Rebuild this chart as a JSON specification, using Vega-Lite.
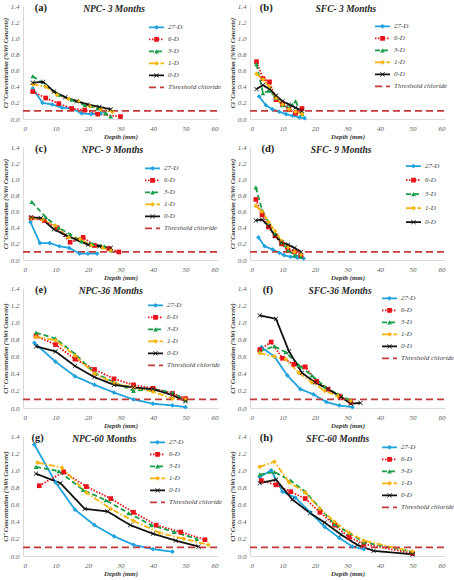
{
  "$schema": "https://vega.github.io/schema/vega-lite/v6.json",
  "background": "white",
  "padding": {"left": 2, "top": 2, "right": 2, "bottom": 2},
  "config": {
    "view": {"stroke": null},
    "font": "Liberation Serif",
    "axis": {"grid": false, "ticks": false, "domainColor": "#d9d9d9", "labelFont": "Liberation Serif", "labelFontStyle": "italic", "labelFontSize": 7, "labelColor": "#595959", "titleFont": "Liberation Serif", "titleFontStyle": "italic", "titleFontWeight": "bold", "titleFontSize": 6.3, "titleColor": "#333333", "labelOverlap": false},
    "axisX": {"labelPadding": 5, "titlePadding": 2, "titleFontSize": 6.8},
    "axisY": {"labelPadding": 4, "titlePadding": 2},
    "legend": {"labelFont": "Liberation Serif", "labelFontStyle": "italic", "labelFontSize": 7, "labelColor": "#404040", "padding": 0, "rowPadding": 0, "clipHeight": 11.7}
  },
  "data": {"values": [
    {"p":"a","s":"27-D","d":3,"c":0.38},{"p":"a","s":"27-D","d":6,"c":0.2},{"p":"a","s":"27-D","d":9,"c":0.18},{"p":"a","s":"27-D","d":12,"c":0.14},{"p":"a","s":"27-D","d":15,"c":0.13},{"p":"a","s":"27-D","d":18,"c":0.07},{"p":"a","s":"27-D","d":21,"c":0.06},{"p":"a","s":"27-D","d":24,"c":0.07},
    {"p":"a","s":"6-D","d":3,"c":0.34},{"p":"a","s":"6-D","d":7,"c":0.26},{"p":"a","s":"6-D","d":11,"c":0.19},{"p":"a","s":"6-D","d":15,"c":0.13},{"p":"a","s":"6-D","d":19,"c":0.11},{"p":"a","s":"6-D","d":23,"c":0.06},{"p":"a","s":"6-D","d":30,"c":0.03},
    {"p":"a","s":"3-D","d":3,"c":0.53},{"p":"a","s":"3-D","d":7,"c":0.42},{"p":"a","s":"3-D","d":11,"c":0.3},{"p":"a","s":"3-D","d":15,"c":0.24},{"p":"a","s":"3-D","d":19,"c":0.17},{"p":"a","s":"3-D","d":23,"c":0.13},{"p":"a","s":"3-D","d":25.5,"c":0.07},{"p":"a","s":"3-D","d":27,"c":0.03},
    {"p":"a","s":"1-D","d":3,"c":0.43},{"p":"a","s":"1-D","d":7,"c":0.4},{"p":"a","s":"1-D","d":10.5,"c":0.3},{"p":"a","s":"1-D","d":14,"c":0.25},{"p":"a","s":"1-D","d":17,"c":0.22},{"p":"a","s":"1-D","d":20.5,"c":0.16},{"p":"a","s":"1-D","d":24,"c":0.12},{"p":"a","s":"1-D","d":27.5,"c":0.09},
    {"p":"a","s":"0-D","d":3,"c":0.45},{"p":"a","s":"0-D","d":6.2,"c":0.46},{"p":"a","s":"0-D","d":9.5,"c":0.34},{"p":"a","s":"0-D","d":13,"c":0.27},{"p":"a","s":"0-D","d":16.5,"c":0.22},{"p":"a","s":"0-D","d":20,"c":0.18},{"p":"a","s":"0-D","d":23.5,"c":0.15},{"p":"a","s":"0-D","d":27,"c":0.12},
    {"p":"a","s":"Threshold chloride","d":0,"c":0.1},{"p":"a","s":"Threshold chloride","d":60,"c":0.1},

    {"p":"b","s":"27-D","d":2.8,"c":0.28},{"p":"b","s":"27-D","d":4.9,"c":0.17},{"p":"b","s":"27-D","d":6.9,"c":0.12},{"p":"b","s":"27-D","d":9,"c":0.09},{"p":"b","s":"27-D","d":11.1,"c":0.06},{"p":"b","s":"27-D","d":13.1,"c":0.04},{"p":"b","s":"27-D","d":15.2,"c":0.02},{"p":"b","s":"27-D","d":16.8,"c":0.01},
    {"p":"b","s":"6-D","d":2,"c":0.71},{"p":"b","s":"6-D","d":4,"c":0.5},{"p":"b","s":"6-D","d":6,"c":0.46},{"p":"b","s":"6-D","d":8,"c":0.24},{"p":"b","s":"6-D","d":10,"c":0.18},{"p":"b","s":"6-D","d":12,"c":0.12},{"p":"b","s":"6-D","d":14,"c":0.07},{"p":"b","s":"6-D","d":16,"c":0.13},
    {"p":"b","s":"3-D","d":2,"c":0.68},{"p":"b","s":"3-D","d":4,"c":0.32},{"p":"b","s":"3-D","d":6,"c":0.35},{"p":"b","s":"3-D","d":8,"c":0.26},{"p":"b","s":"3-D","d":10,"c":0.17},{"p":"b","s":"3-D","d":12,"c":0.14},{"p":"b","s":"3-D","d":14,"c":0.22},{"p":"b","s":"3-D","d":16,"c":0.06},
    {"p":"b","s":"1-D","d":2,"c":0.56},{"p":"b","s":"1-D","d":4,"c":0.49},{"p":"b","s":"1-D","d":6,"c":0.4},{"p":"b","s":"1-D","d":8,"c":0.26},{"p":"b","s":"1-D","d":10,"c":0.18},{"p":"b","s":"1-D","d":12,"c":0.12},{"p":"b","s":"1-D","d":14,"c":0.09},{"p":"b","s":"1-D","d":16,"c":0.06},
    {"p":"b","s":"0-D","d":2,"c":0.37},{"p":"b","s":"0-D","d":4,"c":0.42},{"p":"b","s":"0-D","d":6,"c":0.37},{"p":"b","s":"0-D","d":8,"c":0.29},{"p":"b","s":"0-D","d":10,"c":0.22},{"p":"b","s":"0-D","d":12,"c":0.18},{"p":"b","s":"0-D","d":14,"c":0.14},{"p":"b","s":"0-D","d":16,"c":0.1},
    {"p":"b","s":"Threshold chloride","d":0,"c":0.1},{"p":"b","s":"Threshold chloride","d":60,"c":0.1},

    {"p":"c","s":"27-D","d":2.3,"c":0.47},{"p":"c","s":"27-D","d":5.2,"c":0.21},{"p":"c","s":"27-D","d":8.2,"c":0.21},{"p":"c","s":"27-D","d":11.2,"c":0.17},{"p":"c","s":"27-D","d":14.2,"c":0.15},{"p":"c","s":"27-D","d":17.4,"c":0.08},{"p":"c","s":"27-D","d":20,"c":0.08},{"p":"c","s":"27-D","d":22.8,"c":0.08},
    {"p":"c","s":"6-D","d":2.5,"c":0.52},{"p":"c","s":"6-D","d":6.5,"c":0.49},{"p":"c","s":"6-D","d":10.5,"c":0.4},{"p":"c","s":"6-D","d":14.5,"c":0.22},{"p":"c","s":"6-D","d":18.5,"c":0.28},{"p":"c","s":"6-D","d":22,"c":0.18},{"p":"c","s":"6-D","d":26.5,"c":0.14},{"p":"c","s":"6-D","d":29.5,"c":0.1},
    {"p":"c","s":"3-D","d":2.7,"c":0.72},{"p":"c","s":"3-D","d":7,"c":0.53},{"p":"c","s":"3-D","d":11,"c":0.4},{"p":"c","s":"3-D","d":14.5,"c":0.32},{"p":"c","s":"3-D","d":18,"c":0.23},{"p":"c","s":"3-D","d":21.5,"c":0.2},{"p":"c","s":"3-D","d":25,"c":0.17},{"p":"c","s":"3-D","d":27,"c":0.12},
    {"p":"c","s":"1-D","d":2.5,"c":0.52},{"p":"c","s":"1-D","d":6,"c":0.5},{"p":"c","s":"1-D","d":10,"c":0.42},{"p":"c","s":"1-D","d":14,"c":0.28},{"p":"c","s":"1-D","d":17.5,"c":0.26},{"p":"c","s":"1-D","d":21,"c":0.18},{"p":"c","s":"1-D","d":24.5,"c":0.15},{"p":"c","s":"1-D","d":27,"c":0.12},
    {"p":"c","s":"0-D","d":2.5,"c":0.53},{"p":"c","s":"0-D","d":5.5,"c":0.52},{"p":"c","s":"0-D","d":9.5,"c":0.38},{"p":"c","s":"0-D","d":13,"c":0.31},{"p":"c","s":"0-D","d":16.5,"c":0.25},{"p":"c","s":"0-D","d":20,"c":0.19},{"p":"c","s":"0-D","d":23.5,"c":0.17},{"p":"c","s":"0-D","d":27,"c":0.15},
    {"p":"c","s":"Threshold chloride","d":0,"c":0.1},{"p":"c","s":"Threshold chloride","d":60,"c":0.1},

    {"p":"d","s":"27-D","d":2.6,"c":0.28},{"p":"d","s":"27-D","d":4.5,"c":0.17},{"p":"d","s":"27-D","d":7,"c":0.13},{"p":"d","s":"27-D","d":9,"c":0.09},{"p":"d","s":"27-D","d":10.5,"c":0.06},{"p":"d","s":"27-D","d":12.5,"c":0.04},{"p":"d","s":"27-D","d":14.5,"c":0.03},{"p":"d","s":"27-D","d":16.5,"c":0.02},
    {"p":"d","s":"6-D","d":1.8,"c":0.75},{"p":"d","s":"6-D","d":3.7,"c":0.56},{"p":"d","s":"6-D","d":5.7,"c":0.41},{"p":"d","s":"6-D","d":7.7,"c":0.3},{"p":"d","s":"6-D","d":9.7,"c":0.2},{"p":"d","s":"6-D","d":11.7,"c":0.12},{"p":"d","s":"6-D","d":13.7,"c":0.1},{"p":"d","s":"6-D","d":15.7,"c":0.05},
    {"p":"d","s":"3-D","d":1.8,"c":0.9},{"p":"d","s":"3-D","d":3.7,"c":0.62},{"p":"d","s":"3-D","d":5.7,"c":0.46},{"p":"d","s":"3-D","d":7.7,"c":0.33},{"p":"d","s":"3-D","d":9.7,"c":0.22},{"p":"d","s":"3-D","d":11.7,"c":0.12},{"p":"d","s":"3-D","d":13.7,"c":0.06},{"p":"d","s":"3-D","d":15.7,"c":0.04},
    {"p":"d","s":"1-D","d":1.8,"c":0.67},{"p":"d","s":"1-D","d":3.7,"c":0.6},{"p":"d","s":"1-D","d":5.7,"c":0.47},{"p":"d","s":"1-D","d":7.7,"c":0.36},{"p":"d","s":"1-D","d":9.7,"c":0.24},{"p":"d","s":"1-D","d":11.7,"c":0.16},{"p":"d","s":"1-D","d":13.7,"c":0.1},{"p":"d","s":"1-D","d":15.7,"c":0.07},
    {"p":"d","s":"0-D","d":1.8,"c":0.49},{"p":"d","s":"0-D","d":3.7,"c":0.5},{"p":"d","s":"0-D","d":5.7,"c":0.42},{"p":"d","s":"0-D","d":7.7,"c":0.3},{"p":"d","s":"0-D","d":9.7,"c":0.22},{"p":"d","s":"0-D","d":11.7,"c":0.19},{"p":"d","s":"0-D","d":13.7,"c":0.15},{"p":"d","s":"0-D","d":15.7,"c":0.1},
    {"p":"d","s":"Threshold chloride","d":0,"c":0.1},{"p":"d","s":"Threshold chloride","d":60,"c":0.1},

    {"p":"e","s":"27-D","d":3.5,"c":0.76},{"p":"e","s":"27-D","d":10,"c":0.54},{"p":"e","s":"27-D","d":16,"c":0.37},{"p":"e","s":"27-D","d":22,"c":0.27},{"p":"e","s":"27-D","d":28,"c":0.18},{"p":"e","s":"27-D","d":34,"c":0.1},{"p":"e","s":"27-D","d":40,"c":0.05},{"p":"e","s":"27-D","d":46,"c":0.03},{"p":"e","s":"27-D","d":50,"c":0.01},
    {"p":"e","s":"6-D","d":4,"c":0.84},{"p":"e","s":"6-D","d":10,"c":0.74},{"p":"e","s":"6-D","d":16,"c":0.57},{"p":"e","s":"6-D","d":22,"c":0.45},{"p":"e","s":"6-D","d":28,"c":0.34},{"p":"e","s":"6-D","d":34,"c":0.27},{"p":"e","s":"6-D","d":40,"c":0.23},{"p":"e","s":"6-D","d":46,"c":0.17},{"p":"e","s":"6-D","d":50,"c":0.11},
    {"p":"e","s":"3-D","d":4,"c":0.88},{"p":"e","s":"3-D","d":10,"c":0.81},{"p":"e","s":"3-D","d":16,"c":0.63},{"p":"e","s":"3-D","d":22,"c":0.41},{"p":"e","s":"3-D","d":28,"c":0.3},{"p":"e","s":"3-D","d":34,"c":0.2},{"p":"e","s":"3-D","d":40,"c":0.22},{"p":"e","s":"3-D","d":46,"c":0.18},{"p":"e","s":"3-D","d":50,"c":0.09},
    {"p":"e","s":"1-D","d":4,"c":0.83},{"p":"e","s":"1-D","d":10,"c":0.79},{"p":"e","s":"1-D","d":16,"c":0.61},{"p":"e","s":"1-D","d":22,"c":0.4},{"p":"e","s":"1-D","d":28,"c":0.29},{"p":"e","s":"1-D","d":34,"c":0.24},{"p":"e","s":"1-D","d":40,"c":0.19},{"p":"e","s":"1-D","d":46,"c":0.11},{"p":"e","s":"1-D","d":50,"c":0.1},
    {"p":"e","s":"0-D","d":4,"c":0.72},{"p":"e","s":"0-D","d":10,"c":0.66},{"p":"e","s":"0-D","d":16,"c":0.49},{"p":"e","s":"0-D","d":22,"c":0.36},{"p":"e","s":"0-D","d":28,"c":0.27},{"p":"e","s":"0-D","d":34,"c":0.24},{"p":"e","s":"0-D","d":40,"c":0.22},{"p":"e","s":"0-D","d":46,"c":0.15},{"p":"e","s":"0-D","d":50,"c":0.08},
    {"p":"e","s":"Threshold chloride","d":0,"c":0.1},{"p":"e","s":"Threshold chloride","d":60,"c":0.1},

    {"p":"f","s":"27-D","d":3.5,"c":0.71},{"p":"f","s":"27-D","d":7.5,"c":0.6},{"p":"f","s":"27-D","d":11.5,"c":0.38},{"p":"f","s":"27-D","d":15.5,"c":0.22},{"p":"f","s":"27-D","d":19.5,"c":0.16},{"p":"f","s":"27-D","d":23.5,"c":0.07},{"p":"f","s":"27-D","d":27.5,"c":0.03},{"p":"f","s":"27-D","d":31.5,"c":0.01},
    {"p":"f","s":"6-D","d":3,"c":0.68},{"p":"f","s":"6-D","d":6.5,"c":0.77},{"p":"f","s":"6-D","d":10,"c":0.58},{"p":"f","s":"6-D","d":13.5,"c":0.51},{"p":"f","s":"6-D","d":17,"c":0.48},{"p":"f","s":"6-D","d":20.5,"c":0.31},{"p":"f","s":"6-D","d":24,"c":0.22},{"p":"f","s":"6-D","d":27.5,"c":0.14},{"p":"f","s":"6-D","d":31,"c":0.07},
    {"p":"f","s":"3-D","d":3,"c":0.66},{"p":"f","s":"3-D","d":7.5,"c":0.72},{"p":"f","s":"3-D","d":11,"c":0.65},{"p":"f","s":"3-D","d":15,"c":0.5},{"p":"f","s":"3-D","d":19,"c":0.38},{"p":"f","s":"3-D","d":23,"c":0.25},{"p":"f","s":"3-D","d":27,"c":0.16},{"p":"f","s":"3-D","d":31,"c":0.09},
    {"p":"f","s":"1-D","d":3,"c":0.64},{"p":"f","s":"1-D","d":7.5,"c":0.6},{"p":"f","s":"1-D","d":11,"c":0.57},{"p":"f","s":"1-D","d":15,"c":0.41},{"p":"f","s":"1-D","d":19,"c":0.3},{"p":"f","s":"1-D","d":23,"c":0.2},{"p":"f","s":"1-D","d":27,"c":0.14},{"p":"f","s":"1-D","d":31,"c":0.08},
    {"p":"f","s":"0-D","d":3,"c":1.08},{"p":"f","s":"0-D","d":8,"c":1.04},{"p":"f","s":"0-D","d":12,"c":0.66},{"p":"f","s":"0-D","d":16,"c":0.41},{"p":"f","s":"0-D","d":20,"c":0.3},{"p":"f","s":"0-D","d":24,"c":0.22},{"p":"f","s":"0-D","d":28,"c":0.13},{"p":"f","s":"0-D","d":31,"c":0.05},{"p":"f","s":"0-D","d":34,"c":0.06},
    {"p":"f","s":"Threshold chloride","d":0,"c":0.1},{"p":"f","s":"Threshold chloride","d":60,"c":0.1},

    {"p":"g","s":"27-D","d":3.5,"c":1.3},{"p":"g","s":"27-D","d":10,"c":0.86},{"p":"g","s":"27-D","d":16,"c":0.54},{"p":"g","s":"27-D","d":22,"c":0.36},{"p":"g","s":"27-D","d":28,"c":0.23},{"p":"g","s":"27-D","d":34,"c":0.13},{"p":"g","s":"27-D","d":40,"c":0.08},{"p":"g","s":"27-D","d":46,"c":0.05},
    {"p":"g","s":"6-D","d":5,"c":0.82},{"p":"g","s":"6-D","d":12.5,"c":0.98},{"p":"g","s":"6-D","d":19.5,"c":0.81},{"p":"g","s":"6-D","d":27,"c":0.67},{"p":"g","s":"6-D","d":34,"c":0.51},{"p":"g","s":"6-D","d":41,"c":0.36},{"p":"g","s":"6-D","d":48.5,"c":0.28},{"p":"g","s":"6-D","d":56,"c":0.19},
    {"p":"g","s":"3-D","d":4,"c":1.04},{"p":"g","s":"3-D","d":11,"c":0.99},{"p":"g","s":"3-D","d":18.5,"c":0.77},{"p":"g","s":"3-D","d":25.5,"c":0.65},{"p":"g","s":"3-D","d":32.5,"c":0.5},{"p":"g","s":"3-D","d":39.5,"c":0.36},{"p":"g","s":"3-D","d":46.5,"c":0.28},{"p":"g","s":"3-D","d":53.5,"c":0.2},
    {"p":"g","s":"1-D","d":4.5,"c":1.09},{"p":"g","s":"1-D","d":12,"c":1.03},{"p":"g","s":"1-D","d":19.5,"c":0.74},{"p":"g","s":"1-D","d":27,"c":0.55},{"p":"g","s":"1-D","d":34,"c":0.41},{"p":"g","s":"1-D","d":42,"c":0.27},{"p":"g","s":"1-D","d":49.5,"c":0.2},{"p":"g","s":"1-D","d":57,"c":0.13},
    {"p":"g","s":"0-D","d":4,"c":0.96},{"p":"g","s":"0-D","d":11.5,"c":0.85},{"p":"g","s":"0-D","d":19,"c":0.55},{"p":"g","s":"0-D","d":26,"c":0.52},{"p":"g","s":"0-D","d":33,"c":0.36},{"p":"g","s":"0-D","d":40,"c":0.26},{"p":"g","s":"0-D","d":47,"c":0.18},{"p":"g","s":"0-D","d":54,"c":0.11},
    {"p":"g","s":"Threshold chloride","d":0,"c":0.1},{"p":"g","s":"Threshold chloride","d":60,"c":0.1},

    {"p":"h","s":"27-D","d":3,"c":0.92},{"p":"h","s":"27-D","d":6.5,"c":1.0},{"p":"h","s":"27-D","d":10,"c":0.75},{"p":"h","s":"27-D","d":14,"c":0.68},{"p":"h","s":"27-D","d":18.5,"c":0.51},{"p":"h","s":"27-D","d":23,"c":0.34},{"p":"h","s":"27-D","d":27.5,"c":0.21},{"p":"h","s":"27-D","d":31.5,"c":0.11},{"p":"h","s":"27-D","d":35,"c":0.08},
    {"p":"h","s":"6-D","d":3.5,"c":0.88},{"p":"h","s":"6-D","d":8,"c":0.83},{"p":"h","s":"6-D","d":12.5,"c":0.75},{"p":"h","s":"6-D","d":17,"c":0.67},{"p":"h","s":"6-D","d":21.5,"c":0.51},{"p":"h","s":"6-D","d":26,"c":0.36},{"p":"h","s":"6-D","d":30.5,"c":0.22},{"p":"h","s":"6-D","d":35,"c":0.14},{"p":"h","s":"6-D","d":50,"c":0.03},
    {"p":"h","s":"3-D","d":3,"c":0.95},{"p":"h","s":"3-D","d":7.5,"c":0.98},{"p":"h","s":"3-D","d":12.5,"c":0.88},{"p":"h","s":"3-D","d":17,"c":0.75},{"p":"h","s":"3-D","d":21.5,"c":0.56},{"p":"h","s":"3-D","d":26,"c":0.37},{"p":"h","s":"3-D","d":30.5,"c":0.27},{"p":"h","s":"3-D","d":35,"c":0.16},{"p":"h","s":"3-D","d":50,"c":0.05},
    {"p":"h","s":"1-D","d":3,"c":1.04},{"p":"h","s":"1-D","d":7.5,"c":1.1},{"p":"h","s":"1-D","d":12,"c":0.86},{"p":"h","s":"1-D","d":17,"c":0.74},{"p":"h","s":"1-D","d":21.5,"c":0.55},{"p":"h","s":"1-D","d":26,"c":0.4},{"p":"h","s":"1-D","d":30.5,"c":0.27},{"p":"h","s":"1-D","d":35,"c":0.18},{"p":"h","s":"1-D","d":50,"c":0.05},
    {"p":"h","s":"0-D","d":3,"c":0.85},{"p":"h","s":"0-D","d":8,"c":0.89},{"p":"h","s":"0-D","d":13,"c":0.66},{"p":"h","s":"0-D","d":18.5,"c":0.5},{"p":"h","s":"0-D","d":23,"c":0.39},{"p":"h","s":"0-D","d":28,"c":0.25},{"p":"h","s":"0-D","d":33,"c":0.13},{"p":"h","s":"0-D","d":38,"c":0.06},{"p":"h","s":"0-D","d":50,"c":0.02},
    {"p":"h","s":"Threshold chloride","d":0,"c":0.1},{"p":"h","s":"Threshold chloride","d":60,"c":0.1}
  ]},
  "columns": 2,
  "bounds": "flush",
  "align": "each",
  "spacing": {"row": 28, "column": 32},
  "resolve": {
    "scale": {"color": "independent", "strokeDash": "independent", "fill": "independent", "shape": "independent"},
    "legend": {"color": "independent", "strokeDash": "independent", "fill": "independent", "shape": "independent"}
  },
  "concat": [
    {
      "width": 195, "height": 113,
      "layer": [
        {"transform": [{"filter": "datum.p === 'a'"}],
         "mark": {"type": "line", "strokeWidth": 1.8},
         "encoding": {
           "x": {"field": "d", "type": "quantitative", "scale": {"domain": [0, 60], "nice": false}, "axis": {"values": [0, 10, 20, 30, 40, 50, 60], "title": "Depth (mm)"}},
           "y": {"field": "c", "type": "quantitative", "scale": {"domain": [0, 1.4], "nice": false}, "axis": {"values": [0, 0.2, 0.4, 0.6, 0.8, 1.0, 1.2, 1.4], "format": ".1f", "title": "Cl⁻ Concentration (%Wt Concrete)"}},
           "color": {"field": "s", "type": "nominal", "scale": {"domain": ["27-D", "6-D", "3-D", "1-D", "0-D", "Threshold chloride"], "range": ["#1fa2de", "#e8121a", "#1a9e49", "#f6b40d", "#111111", "#c23b3b"]}, "legend": {"orient": "none", "legendX": 125, "legendY": 15.5, "title": null, "symbolType": "stroke", "symbolSize": 225, "symbolStrokeWidth": 1.8, "labelOffset": 3}},
           "strokeDash": {"field": "s", "type": "nominal", "scale": {"domain": ["27-D", "6-D", "3-D", "1-D", "0-D", "Threshold chloride"], "range": [[1, 0], [1.5, 1.5], [5, 3], [6, 2, 1.5, 2], [1, 0], [7, 4]]}, "legend": {"orient": "none", "legendX": 125, "legendY": 15.5, "title": null, "symbolType": "stroke", "symbolSize": 225, "symbolStrokeWidth": 1.8, "labelOffset": 3}}
         }},
        {"transform": [{"filter": "datum.p === 'a' && datum.s !== 'Threshold chloride'"}],
         "mark": {"type": "point", "filled": true, "opacity": 1, "size": 22},
         "encoding": {
           "x": {"field": "d", "type": "quantitative", "scale": {"domain": [0, 60], "nice": false}, "axis": {"values": [0, 10, 20, 30, 40, 50, 60], "title": "Depth (mm)"}},
           "y": {"field": "c", "type": "quantitative", "scale": {"domain": [0, 1.4], "nice": false}, "axis": {"values": [0, 0.2, 0.4, 0.6, 0.8, 1.0, 1.2, 1.4], "format": ".1f", "title": "Cl⁻ Concentration (%Wt Concrete)"}},
           "fill": {"field": "s", "type": "nominal", "scale": {"domain": ["27-D", "6-D", "3-D", "1-D", "0-D"], "range": ["#1fa2de", "#e8121a", "#1a9e49", "#f6b40d", "#111111"]}, "legend": {"orient": "none", "legendX": 125, "legendY": 15.5, "title": null, "symbolSize": 22, "symbolStrokeWidth": 0, "symbolOffset": 5, "labelExpr": "''"}},
           "shape": {"field": "s", "type": "nominal", "scale": {"domain": ["27-D", "6-D", "3-D", "1-D", "0-D"], "range": ["diamond", "square", "triangle-up", "diamond", "M-1,-0.8L-0.8,-1L0,-0.2L0.8,-1L1,-0.8L0.2,0L1,0.8L0.8,1L0,0.2L-0.8,1L-1,0.8L-0.2,0Z"]}, "legend": {"orient": "none", "legendX": 125, "legendY": 15.5, "title": null, "symbolSize": 22, "symbolStrokeWidth": 0, "symbolOffset": 5, "labelExpr": "''"}}
         }},
        {"data": {"values": [{"t": "(a)"}]},
         "mark": {"type": "text", "font": "Liberation Serif", "fontWeight": "bold", "fontSize": 10.5, "color": "#1a1a1a", "baseline": "middle"},
         "encoding": {
           "x": {"datum": 5.5, "type": "quantitative", "scale": {"domain": [0, 60], "nice": false}, "axis": {"values": [0, 10, 20, 30, 40, 50, 60], "title": "Depth (mm)"}},
           "y": {"datum": 1.38, "type": "quantitative", "scale": {"domain": [0, 1.4], "nice": false}, "axis": {"values": [0, 0.2, 0.4, 0.6, 0.8, 1.0, 1.2, 1.4], "format": ".1f", "title": "Cl⁻ Concentration (%Wt Concrete)"}},
           "text": {"field": "t", "type": "nominal"}}},
        {"data": {"values": [{"t": "NPC- 3 Months"}]},
         "mark": {"type": "text", "font": "Liberation Serif", "fontWeight": "bold", "fontStyle": "italic", "fontSize": 9.5, "color": "#262626", "baseline": "middle"},
         "encoding": {
           "x": {"datum": 28, "type": "quantitative", "scale": {"domain": [0, 60], "nice": false}, "axis": {"values": [0, 10, 20, 30, 40, 50, 60], "title": "Depth (mm)"}},
           "y": {"datum": 1.36, "type": "quantitative", "scale": {"domain": [0, 1.4], "nice": false}, "axis": {"values": [0, 0.2, 0.4, 0.6, 0.8, 1.0, 1.2, 1.4], "format": ".1f", "title": "Cl⁻ Concentration (%Wt Concrete)"}},
           "text": {"field": "t", "type": "nominal"}}}
      ]
    },
    {
      "width": 195, "height": 113,
      "layer": [
        {"transform": [{"filter": "datum.p === 'b'"}],
         "mark": {"type": "line", "strokeWidth": 1.8},
         "encoding": {
           "x": {"field": "d", "type": "quantitative", "scale": {"domain": [0, 60], "nice": false}, "axis": {"values": [0, 10, 20, 30, 40, 50, 60], "title": "Depth (mm)"}},
           "y": {"field": "c", "type": "quantitative", "scale": {"domain": [0, 1.4], "nice": false}, "axis": {"values": [0, 0.2, 0.4, 0.6, 0.8, 1.0, 1.2, 1.4], "format": ".1f", "title": "Cl⁻ Concentration (%Wt Concrete)"}},
           "color": {"field": "s", "type": "nominal", "scale": {"domain": ["27-D", "6-D", "3-D", "1-D", "0-D", "Threshold chloride"], "range": ["#1fa2de", "#e8121a", "#1a9e49", "#f6b40d", "#111111", "#c23b3b"]}, "legend": {"orient": "none", "legendX": 124, "legendY": 14.5, "title": null, "symbolType": "stroke", "symbolSize": 225, "symbolStrokeWidth": 1.8, "labelOffset": 3}},
           "strokeDash": {"field": "s", "type": "nominal", "scale": {"domain": ["27-D", "6-D", "3-D", "1-D", "0-D", "Threshold chloride"], "range": [[1, 0], [1.5, 1.5], [5, 3], [6, 2, 1.5, 2], [1, 0], [7, 4]]}, "legend": {"orient": "none", "legendX": 124, "legendY": 14.5, "title": null, "symbolType": "stroke", "symbolSize": 225, "symbolStrokeWidth": 1.8, "labelOffset": 3}}
         }},
        {"transform": [{"filter": "datum.p === 'b' && datum.s !== 'Threshold chloride'"}],
         "mark": {"type": "point", "filled": true, "opacity": 1, "size": 22},
         "encoding": {
           "x": {"field": "d", "type": "quantitative", "scale": {"domain": [0, 60], "nice": false}, "axis": {"values": [0, 10, 20, 30, 40, 50, 60], "title": "Depth (mm)"}},
           "y": {"field": "c", "type": "quantitative", "scale": {"domain": [0, 1.4], "nice": false}, "axis": {"values": [0, 0.2, 0.4, 0.6, 0.8, 1.0, 1.2, 1.4], "format": ".1f", "title": "Cl⁻ Concentration (%Wt Concrete)"}},
           "fill": {"field": "s", "type": "nominal", "scale": {"domain": ["27-D", "6-D", "3-D", "1-D", "0-D"], "range": ["#1fa2de", "#e8121a", "#1a9e49", "#f6b40d", "#111111"]}, "legend": {"orient": "none", "legendX": 124, "legendY": 14.5, "title": null, "symbolSize": 22, "symbolStrokeWidth": 0, "symbolOffset": 5, "labelExpr": "''"}},
           "shape": {"field": "s", "type": "nominal", "scale": {"domain": ["27-D", "6-D", "3-D", "1-D", "0-D"], "range": ["diamond", "square", "triangle-up", "diamond", "M-1,-0.8L-0.8,-1L0,-0.2L0.8,-1L1,-0.8L0.2,0L1,0.8L0.8,1L0,0.2L-0.8,1L-1,0.8L-0.2,0Z"]}, "legend": {"orient": "none", "legendX": 124, "legendY": 14.5, "title": null, "symbolSize": 22, "symbolStrokeWidth": 0, "symbolOffset": 5, "labelExpr": "''"}}
         }},
        {"data": {"values": [{"t": "(b)"}]},
         "mark": {"type": "text", "font": "Liberation Serif", "fontWeight": "bold", "fontSize": 10.5, "color": "#1a1a1a", "baseline": "middle"},
         "encoding": {
           "x": {"datum": 5, "type": "quantitative", "scale": {"domain": [0, 60], "nice": false}, "axis": {"values": [0, 10, 20, 30, 40, 50, 60], "title": "Depth (mm)"}},
           "y": {"datum": 1.38, "type": "quantitative", "scale": {"domain": [0, 1.4], "nice": false}, "axis": {"values": [0, 0.2, 0.4, 0.6, 0.8, 1.0, 1.2, 1.4], "format": ".1f", "title": "Cl⁻ Concentration (%Wt Concrete)"}},
           "text": {"field": "t", "type": "nominal"}}},
        {"data": {"values": [{"t": "SFC- 3 Months"}]},
         "mark": {"type": "text", "font": "Liberation Serif", "fontWeight": "bold", "fontStyle": "italic", "fontSize": 9.5, "color": "#262626", "baseline": "middle"},
         "encoding": {
           "x": {"datum": 29.5, "type": "quantitative", "scale": {"domain": [0, 60], "nice": false}, "axis": {"values": [0, 10, 20, 30, 40, 50, 60], "title": "Depth (mm)"}},
           "y": {"datum": 1.36, "type": "quantitative", "scale": {"domain": [0, 1.4], "nice": false}, "axis": {"values": [0, 0.2, 0.4, 0.6, 0.8, 1.0, 1.2, 1.4], "format": ".1f", "title": "Cl⁻ Concentration (%Wt Concrete)"}},
           "text": {"field": "t", "type": "nominal"}}}
      ]
    },
    {
      "width": 195, "height": 113,
      "layer": [
        {"transform": [{"filter": "datum.p === 'c'"}],
         "mark": {"type": "line", "strokeWidth": 1.8},
         "encoding": {
           "x": {"field": "d", "type": "quantitative", "scale": {"domain": [0, 60], "nice": false}, "axis": {"values": [0, 10, 20, 30, 40, 50, 60], "title": "Depth (mm)"}},
           "y": {"field": "c", "type": "quantitative", "scale": {"domain": [0, 1.4], "nice": false}, "axis": {"values": [0, 0.2, 0.4, 0.6, 0.8, 1.0, 1.2, 1.4], "format": ".1f", "title": "Cl⁻ Concentration (%Wt Concrete)"}},
           "color": {"field": "s", "type": "nominal", "scale": {"domain": ["27-D", "6-D", "3-D", "1-D", "0-D", "Threshold chloride"], "range": ["#1fa2de", "#e8121a", "#1a9e49", "#f6b40d", "#111111", "#c23b3b"]}, "legend": {"orient": "none", "legendX": 121, "legendY": 15.5, "title": null, "symbolType": "stroke", "symbolSize": 225, "symbolStrokeWidth": 1.8, "labelOffset": 3}},
           "strokeDash": {"field": "s", "type": "nominal", "scale": {"domain": ["27-D", "6-D", "3-D", "1-D", "0-D", "Threshold chloride"], "range": [[1, 0], [1.5, 1.5], [5, 3], [6, 2, 1.5, 2], [1, 0], [7, 4]]}, "legend": {"orient": "none", "legendX": 121, "legendY": 15.5, "title": null, "symbolType": "stroke", "symbolSize": 225, "symbolStrokeWidth": 1.8, "labelOffset": 3}}
         }},
        {"transform": [{"filter": "datum.p === 'c' && datum.s !== 'Threshold chloride'"}],
         "mark": {"type": "point", "filled": true, "opacity": 1, "size": 22},
         "encoding": {
           "x": {"field": "d", "type": "quantitative", "scale": {"domain": [0, 60], "nice": false}, "axis": {"values": [0, 10, 20, 30, 40, 50, 60], "title": "Depth (mm)"}},
           "y": {"field": "c", "type": "quantitative", "scale": {"domain": [0, 1.4], "nice": false}, "axis": {"values": [0, 0.2, 0.4, 0.6, 0.8, 1.0, 1.2, 1.4], "format": ".1f", "title": "Cl⁻ Concentration (%Wt Concrete)"}},
           "fill": {"field": "s", "type": "nominal", "scale": {"domain": ["27-D", "6-D", "3-D", "1-D", "0-D"], "range": ["#1fa2de", "#e8121a", "#1a9e49", "#f6b40d", "#111111"]}, "legend": {"orient": "none", "legendX": 121, "legendY": 15.5, "title": null, "symbolSize": 22, "symbolStrokeWidth": 0, "symbolOffset": 5, "labelExpr": "''"}},
           "shape": {"field": "s", "type": "nominal", "scale": {"domain": ["27-D", "6-D", "3-D", "1-D", "0-D"], "range": ["diamond", "square", "triangle-up", "diamond", "M-1,-0.8L-0.8,-1L0,-0.2L0.8,-1L1,-0.8L0.2,0L1,0.8L0.8,1L0,0.2L-0.8,1L-1,0.8L-0.2,0Z"]}, "legend": {"orient": "none", "legendX": 121, "legendY": 15.5, "title": null, "symbolSize": 22, "symbolStrokeWidth": 0, "symbolOffset": 5, "labelExpr": "''"}}
         }},
        {"data": {"values": [{"t": "(c)"}]},
         "mark": {"type": "text", "font": "Liberation Serif", "fontWeight": "bold", "fontSize": 10.5, "color": "#1a1a1a", "baseline": "middle"},
         "encoding": {
           "x": {"datum": 5.5, "type": "quantitative", "scale": {"domain": [0, 60], "nice": false}, "axis": {"values": [0, 10, 20, 30, 40, 50, 60], "title": "Depth (mm)"}},
           "y": {"datum": 1.38, "type": "quantitative", "scale": {"domain": [0, 1.4], "nice": false}, "axis": {"values": [0, 0.2, 0.4, 0.6, 0.8, 1.0, 1.2, 1.4], "format": ".1f", "title": "Cl⁻ Concentration (%Wt Concrete)"}},
           "text": {"field": "t", "type": "nominal"}}},
        {"data": {"values": [{"t": "NPC- 9 Months"}]},
         "mark": {"type": "text", "font": "Liberation Serif", "fontWeight": "bold", "fontStyle": "italic", "fontSize": 9.5, "color": "#262626", "baseline": "middle"},
         "encoding": {
           "x": {"datum": 27.5, "type": "quantitative", "scale": {"domain": [0, 60], "nice": false}, "axis": {"values": [0, 10, 20, 30, 40, 50, 60], "title": "Depth (mm)"}},
           "y": {"datum": 1.36, "type": "quantitative", "scale": {"domain": [0, 1.4], "nice": false}, "axis": {"values": [0, 0.2, 0.4, 0.6, 0.8, 1.0, 1.2, 1.4], "format": ".1f", "title": "Cl⁻ Concentration (%Wt Concrete)"}},
           "text": {"field": "t", "type": "nominal"}}}
      ]
    },
    {
      "width": 195, "height": 113,
      "layer": [
        {"transform": [{"filter": "datum.p === 'd'"}],
         "mark": {"type": "line", "strokeWidth": 1.8},
         "encoding": {
           "x": {"field": "d", "type": "quantitative", "scale": {"domain": [0, 60], "nice": false}, "axis": {"values": [0, 10, 20, 30, 40, 50, 60], "title": "Depth (mm)"}},
           "y": {"field": "c", "type": "quantitative", "scale": {"domain": [0, 1.4], "nice": false}, "axis": {"values": [0, 0.2, 0.4, 0.6, 0.8, 1.0, 1.2, 1.4], "format": ".1f", "title": "Cl⁻ Concentration (%Wt Concrete)"}},
           "color": {"field": "s", "type": "nominal", "scale": {"domain": ["27-D", "6-D", "3-D", "1-D", "0-D", "Threshold chloride"], "range": ["#1fa2de", "#e8121a", "#1a9e49", "#f6b40d", "#111111", "#c23b3b"]}, "legend": {"orient": "none", "legendX": 155, "legendY": 12.5, "title": null, "symbolType": "stroke", "symbolSize": 225, "symbolStrokeWidth": 1.8, "labelOffset": 3, "clipHeight": 13.3, "values": ["27-D", "6-D", "3-D", "1-D", "0-D"]}},
           "strokeDash": {"field": "s", "type": "nominal", "scale": {"domain": ["27-D", "6-D", "3-D", "1-D", "0-D", "Threshold chloride"], "range": [[1, 0], [1.5, 1.5], [5, 3], [6, 2, 1.5, 2], [1, 0], [7, 4]]}, "legend": {"orient": "none", "legendX": 155, "legendY": 12.5, "title": null, "symbolType": "stroke", "symbolSize": 225, "symbolStrokeWidth": 1.8, "labelOffset": 3, "clipHeight": 13.3, "values": ["27-D", "6-D", "3-D", "1-D", "0-D"]}}
         }},
        {"transform": [{"filter": "datum.p === 'd' && datum.s !== 'Threshold chloride'"}],
         "mark": {"type": "point", "filled": true, "opacity": 1, "size": 22},
         "encoding": {
           "x": {"field": "d", "type": "quantitative", "scale": {"domain": [0, 60], "nice": false}, "axis": {"values": [0, 10, 20, 30, 40, 50, 60], "title": "Depth (mm)"}},
           "y": {"field": "c", "type": "quantitative", "scale": {"domain": [0, 1.4], "nice": false}, "axis": {"values": [0, 0.2, 0.4, 0.6, 0.8, 1.0, 1.2, 1.4], "format": ".1f", "title": "Cl⁻ Concentration (%Wt Concrete)"}},
           "fill": {"field": "s", "type": "nominal", "scale": {"domain": ["27-D", "6-D", "3-D", "1-D", "0-D"], "range": ["#1fa2de", "#e8121a", "#1a9e49", "#f6b40d", "#111111"]}, "legend": {"orient": "none", "legendX": 155, "legendY": 12.5, "title": null, "symbolSize": 22, "symbolStrokeWidth": 0, "symbolOffset": 5, "labelExpr": "''", "clipHeight": 13.3}},
           "shape": {"field": "s", "type": "nominal", "scale": {"domain": ["27-D", "6-D", "3-D", "1-D", "0-D"], "range": ["diamond", "square", "triangle-up", "diamond", "M-1,-0.8L-0.8,-1L0,-0.2L0.8,-1L1,-0.8L0.2,0L1,0.8L0.8,1L0,0.2L-0.8,1L-1,0.8L-0.2,0Z"]}, "legend": {"orient": "none", "legendX": 155, "legendY": 12.5, "title": null, "symbolSize": 22, "symbolStrokeWidth": 0, "symbolOffset": 5, "labelExpr": "''", "clipHeight": 13.3}}
         }},
        {"data": {"values": [{"t": "(d)"}]},
         "mark": {"type": "text", "font": "Liberation Serif", "fontWeight": "bold", "fontSize": 10.5, "color": "#1a1a1a", "baseline": "middle"},
         "encoding": {
           "x": {"datum": 5.5, "type": "quantitative", "scale": {"domain": [0, 60], "nice": false}, "axis": {"values": [0, 10, 20, 30, 40, 50, 60], "title": "Depth (mm)"}},
           "y": {"datum": 1.38, "type": "quantitative", "scale": {"domain": [0, 1.4], "nice": false}, "axis": {"values": [0, 0.2, 0.4, 0.6, 0.8, 1.0, 1.2, 1.4], "format": ".1f", "title": "Cl⁻ Concentration (%Wt Concrete)"}},
           "text": {"field": "t", "type": "nominal"}}},
        {"data": {"values": [{"t": "SFC- 9 Months"}]},
         "mark": {"type": "text", "font": "Liberation Serif", "fontWeight": "bold", "fontStyle": "italic", "fontSize": 9.5, "color": "#262626", "baseline": "middle"},
         "encoding": {
           "x": {"datum": 28, "type": "quantitative", "scale": {"domain": [0, 60], "nice": false}, "axis": {"values": [0, 10, 20, 30, 40, 50, 60], "title": "Depth (mm)"}},
           "y": {"datum": 1.36, "type": "quantitative", "scale": {"domain": [0, 1.4], "nice": false}, "axis": {"values": [0, 0.2, 0.4, 0.6, 0.8, 1.0, 1.2, 1.4], "format": ".1f", "title": "Cl⁻ Concentration (%Wt Concrete)"}},
           "text": {"field": "t", "type": "nominal"}}}
      ]
    },
    {
      "width": 195, "height": 120,
      "layer": [
        {"transform": [{"filter": "datum.p === 'e'"}],
         "mark": {"type": "line", "strokeWidth": 1.8},
         "encoding": {
           "x": {"field": "d", "type": "quantitative", "scale": {"domain": [0, 60], "nice": false}, "axis": {"values": [0, 10, 20, 30, 40, 50, 60], "title": "Depth (mm)"}},
           "y": {"field": "c", "type": "quantitative", "scale": {"domain": [0, 1.4], "nice": false}, "axis": {"values": [0, 0.2, 0.4, 0.6, 0.8, 1.0, 1.2, 1.4], "format": ".1f", "title": "Cl⁻ Concentration (%Wt Concrete)"}},
           "color": {"field": "s", "type": "nominal", "scale": {"domain": ["27-D", "6-D", "3-D", "1-D", "0-D", "Threshold chloride"], "range": ["#1fa2de", "#e8121a", "#1a9e49", "#f6b40d", "#111111", "#c23b3b"]}, "legend": {"orient": "none", "legendX": 124, "legendY": 11.5, "title": null, "symbolType": "stroke", "symbolSize": 225, "symbolStrokeWidth": 1.8, "labelOffset": 3}},
           "strokeDash": {"field": "s", "type": "nominal", "scale": {"domain": ["27-D", "6-D", "3-D", "1-D", "0-D", "Threshold chloride"], "range": [[1, 0], [1.5, 1.5], [5, 3], [6, 2, 1.5, 2], [1, 0], [7, 4]]}, "legend": {"orient": "none", "legendX": 124, "legendY": 11.5, "title": null, "symbolType": "stroke", "symbolSize": 225, "symbolStrokeWidth": 1.8, "labelOffset": 3}}
         }},
        {"transform": [{"filter": "datum.p === 'e' && datum.s !== 'Threshold chloride'"}],
         "mark": {"type": "point", "filled": true, "opacity": 1, "size": 22},
         "encoding": {
           "x": {"field": "d", "type": "quantitative", "scale": {"domain": [0, 60], "nice": false}, "axis": {"values": [0, 10, 20, 30, 40, 50, 60], "title": "Depth (mm)"}},
           "y": {"field": "c", "type": "quantitative", "scale": {"domain": [0, 1.4], "nice": false}, "axis": {"values": [0, 0.2, 0.4, 0.6, 0.8, 1.0, 1.2, 1.4], "format": ".1f", "title": "Cl⁻ Concentration (%Wt Concrete)"}},
           "fill": {"field": "s", "type": "nominal", "scale": {"domain": ["27-D", "6-D", "3-D", "1-D", "0-D"], "range": ["#1fa2de", "#e8121a", "#1a9e49", "#f6b40d", "#111111"]}, "legend": {"orient": "none", "legendX": 124, "legendY": 11.5, "title": null, "symbolSize": 22, "symbolStrokeWidth": 0, "symbolOffset": 5, "labelExpr": "''"}},
           "shape": {"field": "s", "type": "nominal", "scale": {"domain": ["27-D", "6-D", "3-D", "1-D", "0-D"], "range": ["diamond", "square", "triangle-up", "diamond", "M-1,-0.8L-0.8,-1L0,-0.2L0.8,-1L1,-0.8L0.2,0L1,0.8L0.8,1L0,0.2L-0.8,1L-1,0.8L-0.2,0Z"]}, "legend": {"orient": "none", "legendX": 124, "legendY": 11.5, "title": null, "symbolSize": 22, "symbolStrokeWidth": 0, "symbolOffset": 5, "labelExpr": "''"}}
         }},
        {"data": {"values": [{"t": "(e)"}]},
         "mark": {"type": "text", "font": "Liberation Serif", "fontWeight": "bold", "fontSize": 10.5, "color": "#1a1a1a", "baseline": "middle"},
         "encoding": {
           "x": {"datum": 5.5, "type": "quantitative", "scale": {"domain": [0, 60], "nice": false}, "axis": {"values": [0, 10, 20, 30, 40, 50, 60], "title": "Depth (mm)"}},
           "y": {"datum": 1.38, "type": "quantitative", "scale": {"domain": [0, 1.4], "nice": false}, "axis": {"values": [0, 0.2, 0.4, 0.6, 0.8, 1.0, 1.2, 1.4], "format": ".1f", "title": "Cl⁻ Concentration (%Wt Concrete)"}},
           "text": {"field": "t", "type": "nominal"}}},
        {"data": {"values": [{"t": "NPC-36 Months"}]},
         "mark": {"type": "text", "font": "Liberation Serif", "fontWeight": "bold", "fontStyle": "italic", "fontSize": 9.5, "color": "#262626", "baseline": "middle"},
         "encoding": {
           "x": {"datum": 27, "type": "quantitative", "scale": {"domain": [0, 60], "nice": false}, "axis": {"values": [0, 10, 20, 30, 40, 50, 60], "title": "Depth (mm)"}},
           "y": {"datum": 1.36, "type": "quantitative", "scale": {"domain": [0, 1.4], "nice": false}, "axis": {"values": [0, 0.2, 0.4, 0.6, 0.8, 1.0, 1.2, 1.4], "format": ".1f", "title": "Cl⁻ Concentration (%Wt Concrete)"}},
           "text": {"field": "t", "type": "nominal"}}}
      ]
    },
    {
      "width": 195, "height": 120,
      "layer": [
        {"transform": [{"filter": "datum.p === 'f'"}],
         "mark": {"type": "line", "strokeWidth": 1.8},
         "encoding": {
           "x": {"field": "d", "type": "quantitative", "scale": {"domain": [0, 60], "nice": false}, "axis": {"values": [0, 10, 20, 30, 40, 50, 60], "title": "Depth (mm)"}},
           "y": {"field": "c", "type": "quantitative", "scale": {"domain": [0, 1.4], "nice": false}, "axis": {"values": [0, 0.2, 0.4, 0.6, 0.8, 1.0, 1.2, 1.4], "format": ".1f", "title": "Cl⁻ Concentration (%Wt Concrete)"}},
           "color": {"field": "s", "type": "nominal", "scale": {"domain": ["27-D", "6-D", "3-D", "1-D", "0-D", "Threshold chloride"], "range": ["#1fa2de", "#e8121a", "#1a9e49", "#f6b40d", "#111111", "#c23b3b"]}, "legend": {"orient": "none", "legendX": 131, "legendY": 4.5, "title": null, "symbolType": "stroke", "symbolSize": 225, "symbolStrokeWidth": 1.8, "labelOffset": 3}},
           "strokeDash": {"field": "s", "type": "nominal", "scale": {"domain": ["27-D", "6-D", "3-D", "1-D", "0-D", "Threshold chloride"], "range": [[1, 0], [1.5, 1.5], [5, 3], [6, 2, 1.5, 2], [1, 0], [7, 4]]}, "legend": {"orient": "none", "legendX": 131, "legendY": 4.5, "title": null, "symbolType": "stroke", "symbolSize": 225, "symbolStrokeWidth": 1.8, "labelOffset": 3}}
         }},
        {"transform": [{"filter": "datum.p === 'f' && datum.s !== 'Threshold chloride'"}],
         "mark": {"type": "point", "filled": true, "opacity": 1, "size": 22},
         "encoding": {
           "x": {"field": "d", "type": "quantitative", "scale": {"domain": [0, 60], "nice": false}, "axis": {"values": [0, 10, 20, 30, 40, 50, 60], "title": "Depth (mm)"}},
           "y": {"field": "c", "type": "quantitative", "scale": {"domain": [0, 1.4], "nice": false}, "axis": {"values": [0, 0.2, 0.4, 0.6, 0.8, 1.0, 1.2, 1.4], "format": ".1f", "title": "Cl⁻ Concentration (%Wt Concrete)"}},
           "fill": {"field": "s", "type": "nominal", "scale": {"domain": ["27-D", "6-D", "3-D", "1-D", "0-D"], "range": ["#1fa2de", "#e8121a", "#1a9e49", "#f6b40d", "#111111"]}, "legend": {"orient": "none", "legendX": 131, "legendY": 4.5, "title": null, "symbolSize": 22, "symbolStrokeWidth": 0, "symbolOffset": 5, "labelExpr": "''"}},
           "shape": {"field": "s", "type": "nominal", "scale": {"domain": ["27-D", "6-D", "3-D", "1-D", "0-D"], "range": ["diamond", "square", "triangle-up", "diamond", "M-1,-0.8L-0.8,-1L0,-0.2L0.8,-1L1,-0.8L0.2,0L1,0.8L0.8,1L0,0.2L-0.8,1L-1,0.8L-0.2,0Z"]}, "legend": {"orient": "none", "legendX": 131, "legendY": 4.5, "title": null, "symbolSize": 22, "symbolStrokeWidth": 0, "symbolOffset": 5, "labelExpr": "''"}}
         }},
        {"data": {"values": [{"t": "(f)"}]},
         "mark": {"type": "text", "font": "Liberation Serif", "fontWeight": "bold", "fontSize": 10.5, "color": "#1a1a1a", "baseline": "middle"},
         "encoding": {
           "x": {"datum": 5.5, "type": "quantitative", "scale": {"domain": [0, 60], "nice": false}, "axis": {"values": [0, 10, 20, 30, 40, 50, 60], "title": "Depth (mm)"}},
           "y": {"datum": 1.38, "type": "quantitative", "scale": {"domain": [0, 1.4], "nice": false}, "axis": {"values": [0, 0.2, 0.4, 0.6, 0.8, 1.0, 1.2, 1.4], "format": ".1f", "title": "Cl⁻ Concentration (%Wt Concrete)"}},
           "text": {"field": "t", "type": "nominal"}}},
        {"data": {"values": [{"t": "SFC-36 Months"}]},
         "mark": {"type": "text", "font": "Liberation Serif", "fontWeight": "bold", "fontStyle": "italic", "fontSize": 9.5, "color": "#262626", "baseline": "middle"},
         "encoding": {
           "x": {"datum": 27.7, "type": "quantitative", "scale": {"domain": [0, 60], "nice": false}, "axis": {"values": [0, 10, 20, 30, 40, 50, 60], "title": "Depth (mm)"}},
           "y": {"datum": 1.36, "type": "quantitative", "scale": {"domain": [0, 1.4], "nice": false}, "axis": {"values": [0, 0.2, 0.4, 0.6, 0.8, 1.0, 1.2, 1.4], "format": ".1f", "title": "Cl⁻ Concentration (%Wt Concrete)"}},
           "text": {"field": "t", "type": "nominal"}}}
      ]
    },
    {
      "width": 195, "height": 120,
      "layer": [
        {"transform": [{"filter": "datum.p === 'g'"}],
         "mark": {"type": "line", "strokeWidth": 1.8},
         "encoding": {
           "x": {"field": "d", "type": "quantitative", "scale": {"domain": [0, 60], "nice": false}, "axis": {"values": [0, 10, 20, 30, 40, 50, 60], "title": "Depth (mm)"}},
           "y": {"field": "c", "type": "quantitative", "scale": {"domain": [0, 1.4], "nice": false}, "axis": {"values": [0, 0.2, 0.4, 0.6, 0.8, 1.0, 1.2, 1.4], "format": ".1f", "title": "Cl⁻ Concentration (%Wt Concrete)"}},
           "color": {"field": "s", "type": "nominal", "scale": {"domain": ["27-D", "6-D", "3-D", "1-D", "0-D", "Threshold chloride"], "range": ["#1fa2de", "#e8121a", "#1a9e49", "#f6b40d", "#111111", "#c23b3b"]}, "legend": {"orient": "none", "legendX": 126, "legendY": 0.5, "title": null, "symbolType": "stroke", "symbolSize": 225, "symbolStrokeWidth": 1.8, "labelOffset": 3}},
           "strokeDash": {"field": "s", "type": "nominal", "scale": {"domain": ["27-D", "6-D", "3-D", "1-D", "0-D", "Threshold chloride"], "range": [[1, 0], [1.5, 1.5], [5, 3], [6, 2, 1.5, 2], [1, 0], [7, 4]]}, "legend": {"orient": "none", "legendX": 126, "legendY": 0.5, "title": null, "symbolType": "stroke", "symbolSize": 225, "symbolStrokeWidth": 1.8, "labelOffset": 3}}
         }},
        {"transform": [{"filter": "datum.p === 'g' && datum.s !== 'Threshold chloride'"}],
         "mark": {"type": "point", "filled": true, "opacity": 1, "size": 22},
         "encoding": {
           "x": {"field": "d", "type": "quantitative", "scale": {"domain": [0, 60], "nice": false}, "axis": {"values": [0, 10, 20, 30, 40, 50, 60], "title": "Depth (mm)"}},
           "y": {"field": "c", "type": "quantitative", "scale": {"domain": [0, 1.4], "nice": false}, "axis": {"values": [0, 0.2, 0.4, 0.6, 0.8, 1.0, 1.2, 1.4], "format": ".1f", "title": "Cl⁻ Concentration (%Wt Concrete)"}},
           "fill": {"field": "s", "type": "nominal", "scale": {"domain": ["27-D", "6-D", "3-D", "1-D", "0-D"], "range": ["#1fa2de", "#e8121a", "#1a9e49", "#f6b40d", "#111111"]}, "legend": {"orient": "none", "legendX": 126, "legendY": 0.5, "title": null, "symbolSize": 22, "symbolStrokeWidth": 0, "symbolOffset": 5, "labelExpr": "''"}},
           "shape": {"field": "s", "type": "nominal", "scale": {"domain": ["27-D", "6-D", "3-D", "1-D", "0-D"], "range": ["diamond", "square", "triangle-up", "diamond", "M-1,-0.8L-0.8,-1L0,-0.2L0.8,-1L1,-0.8L0.2,0L1,0.8L0.8,1L0,0.2L-0.8,1L-1,0.8L-0.2,0Z"]}, "legend": {"orient": "none", "legendX": 126, "legendY": 0.5, "title": null, "symbolSize": 22, "symbolStrokeWidth": 0, "symbolOffset": 5, "labelExpr": "''"}}
         }},
        {"data": {"values": [{"t": "(g)"}]},
         "mark": {"type": "text", "font": "Liberation Serif", "fontWeight": "bold", "fontSize": 10.5, "color": "#1a1a1a", "baseline": "middle"},
         "encoding": {
           "x": {"datum": 4.5, "type": "quantitative", "scale": {"domain": [0, 60], "nice": false}, "axis": {"values": [0, 10, 20, 30, 40, 50, 60], "title": "Depth (mm)"}},
           "y": {"datum": 1.38, "type": "quantitative", "scale": {"domain": [0, 1.4], "nice": false}, "axis": {"values": [0, 0.2, 0.4, 0.6, 0.8, 1.0, 1.2, 1.4], "format": ".1f", "title": "Cl⁻ Concentration (%Wt Concrete)"}},
           "text": {"field": "t", "type": "nominal"}}},
        {"data": {"values": [{"t": "NPC-60 Months"}]},
         "mark": {"type": "text", "font": "Liberation Serif", "fontWeight": "bold", "fontStyle": "italic", "fontSize": 9.5, "color": "#262626", "baseline": "middle"},
         "encoding": {
           "x": {"datum": 25, "type": "quantitative", "scale": {"domain": [0, 60], "nice": false}, "axis": {"values": [0, 10, 20, 30, 40, 50, 60], "title": "Depth (mm)"}},
           "y": {"datum": 1.37, "type": "quantitative", "scale": {"domain": [0, 1.4], "nice": false}, "axis": {"values": [0, 0.2, 0.4, 0.6, 0.8, 1.0, 1.2, 1.4], "format": ".1f", "title": "Cl⁻ Concentration (%Wt Concrete)"}},
           "text": {"field": "t", "type": "nominal"}}}
      ]
    },
    {
      "width": 195, "height": 120,
      "layer": [
        {"transform": [{"filter": "datum.p === 'h'"}],
         "mark": {"type": "line", "strokeWidth": 1.8},
         "encoding": {
           "x": {"field": "d", "type": "quantitative", "scale": {"domain": [0, 60], "nice": false}, "axis": {"values": [0, 10, 20, 30, 40, 50, 60], "title": "Depth (mm)"}},
           "y": {"field": "c", "type": "quantitative", "scale": {"domain": [0, 1.4], "nice": false}, "axis": {"values": [0, 0.2, 0.4, 0.6, 0.8, 1.0, 1.2, 1.4], "format": ".1f", "title": "Cl⁻ Concentration (%Wt Concrete)"}},
           "color": {"field": "s", "type": "nominal", "scale": {"domain": ["27-D", "6-D", "3-D", "1-D", "0-D", "Threshold chloride"], "range": ["#1fa2de", "#e8121a", "#1a9e49", "#f6b40d", "#111111", "#c23b3b"]}, "legend": {"orient": "none", "legendX": 131, "legendY": 5.5, "title": null, "symbolType": "stroke", "symbolSize": 225, "symbolStrokeWidth": 1.8, "labelOffset": 3}},
           "strokeDash": {"field": "s", "type": "nominal", "scale": {"domain": ["27-D", "6-D", "3-D", "1-D", "0-D", "Threshold chloride"], "range": [[1, 0], [1.5, 1.5], [5, 3], [6, 2, 1.5, 2], [1, 0], [7, 4]]}, "legend": {"orient": "none", "legendX": 131, "legendY": 5.5, "title": null, "symbolType": "stroke", "symbolSize": 225, "symbolStrokeWidth": 1.8, "labelOffset": 3}}
         }},
        {"transform": [{"filter": "datum.p === 'h' && datum.s !== 'Threshold chloride'"}],
         "mark": {"type": "point", "filled": true, "opacity": 1, "size": 22},
         "encoding": {
           "x": {"field": "d", "type": "quantitative", "scale": {"domain": [0, 60], "nice": false}, "axis": {"values": [0, 10, 20, 30, 40, 50, 60], "title": "Depth (mm)"}},
           "y": {"field": "c", "type": "quantitative", "scale": {"domain": [0, 1.4], "nice": false}, "axis": {"values": [0, 0.2, 0.4, 0.6, 0.8, 1.0, 1.2, 1.4], "format": ".1f", "title": "Cl⁻ Concentration (%Wt Concrete)"}},
           "fill": {"field": "s", "type": "nominal", "scale": {"domain": ["27-D", "6-D", "3-D", "1-D", "0-D"], "range": ["#1fa2de", "#e8121a", "#1a9e49", "#f6b40d", "#111111"]}, "legend": {"orient": "none", "legendX": 131, "legendY": 5.5, "title": null, "symbolSize": 22, "symbolStrokeWidth": 0, "symbolOffset": 5, "labelExpr": "''"}},
           "shape": {"field": "s", "type": "nominal", "scale": {"domain": ["27-D", "6-D", "3-D", "1-D", "0-D"], "range": ["diamond", "square", "triangle-up", "diamond", "M-1,-0.8L-0.8,-1L0,-0.2L0.8,-1L1,-0.8L0.2,0L1,0.8L0.8,1L0,0.2L-0.8,1L-1,0.8L-0.2,0Z"]}, "legend": {"orient": "none", "legendX": 131, "legendY": 5.5, "title": null, "symbolSize": 22, "symbolStrokeWidth": 0, "symbolOffset": 5, "labelExpr": "''"}}
         }},
        {"data": {"values": [{"t": "(h)"}]},
         "mark": {"type": "text", "font": "Liberation Serif", "fontWeight": "bold", "fontSize": 10.5, "color": "#1a1a1a", "baseline": "middle"},
         "encoding": {
           "x": {"datum": 5, "type": "quantitative", "scale": {"domain": [0, 60], "nice": false}, "axis": {"values": [0, 10, 20, 30, 40, 50, 60], "title": "Depth (mm)"}},
           "y": {"datum": 1.38, "type": "quantitative", "scale": {"domain": [0, 1.4], "nice": false}, "axis": {"values": [0, 0.2, 0.4, 0.6, 0.8, 1.0, 1.2, 1.4], "format": ".1f", "title": "Cl⁻ Concentration (%Wt Concrete)"}},
           "text": {"field": "t", "type": "nominal"}}},
        {"data": {"values": [{"t": "SFC-60 Months"}]},
         "mark": {"type": "text", "font": "Liberation Serif", "fontWeight": "bold", "fontStyle": "italic", "fontSize": 9.5, "color": "#262626", "baseline": "middle"},
         "encoding": {
           "x": {"datum": 27, "type": "quantitative", "scale": {"domain": [0, 60], "nice": false}, "axis": {"values": [0, 10, 20, 30, 40, 50, 60], "title": "Depth (mm)"}},
           "y": {"datum": 1.36, "type": "quantitative", "scale": {"domain": [0, 1.4], "nice": false}, "axis": {"values": [0, 0.2, 0.4, 0.6, 0.8, 1.0, 1.2, 1.4], "format": ".1f", "title": "Cl⁻ Concentration (%Wt Concrete)"}},
           "text": {"field": "t", "type": "nominal"}}}
      ]
    }
  ]
}
